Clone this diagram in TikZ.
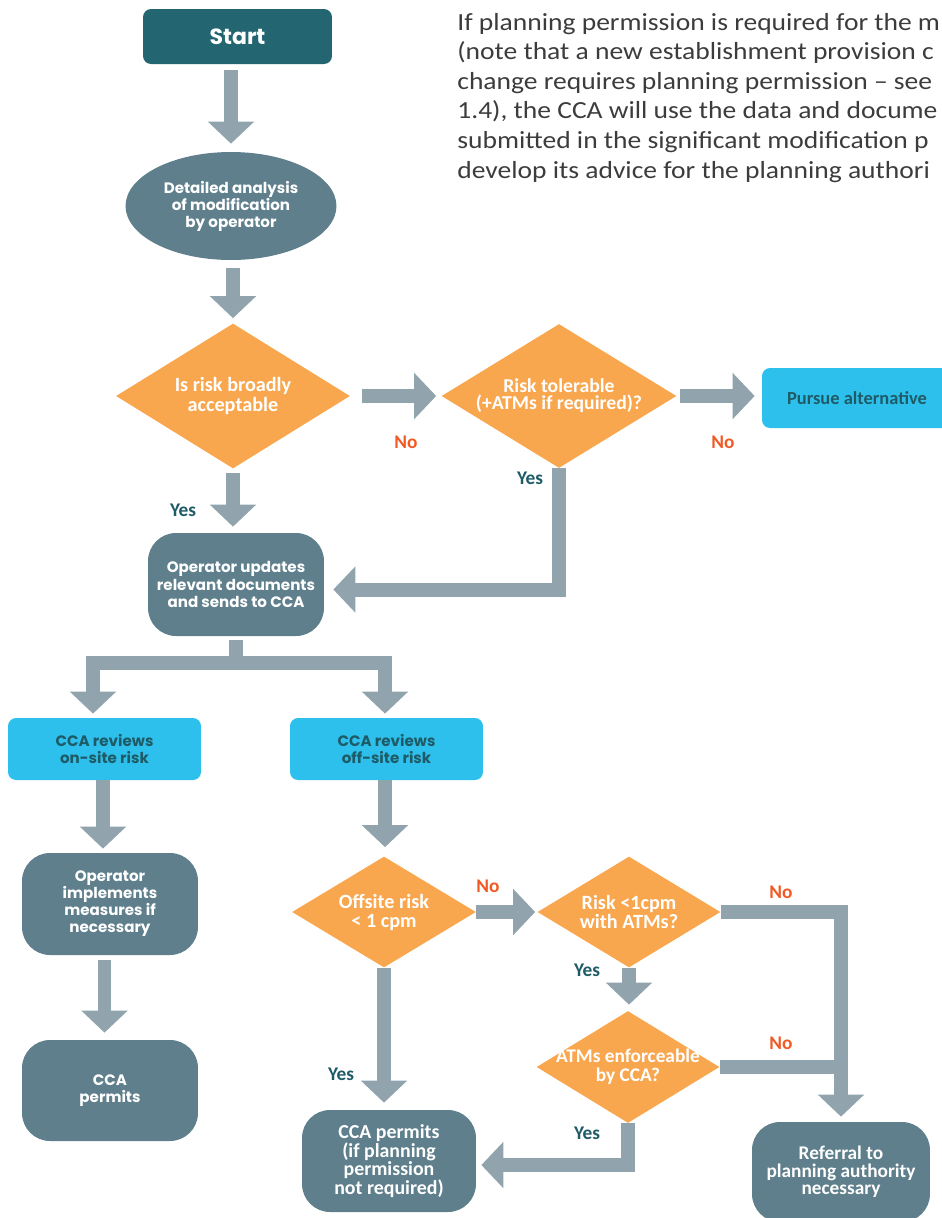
\documentclass[tikz,border=0pt]{standalone}
\usepackage{fontspec}
\setmainfont{Poppins}
\newfontfamily\cndfont{Carlito}
\newfontfamily\parafont[FakeStretch=1.12]{Carlito}
\usetikzlibrary{shapes.geometric,arrows.meta}

\definecolor{startteal}{HTML}{236671}
\definecolor{slate}{HTML}{5E7F8B}
\definecolor{arrowgray}{HTML}{91A4AD}
\definecolor{riskorange}{HTML}{F9A74F}
\definecolor{reviewcyan}{HTML}{2EC0EC}
\definecolor{yesteal}{HTML}{1E5B67}
\definecolor{nored}{HTML}{F15A24}
\definecolor{paratext}{HTML}{3C3C3C}

\begin{document}
\begin{tikzpicture}[x=0.02cm,y=-0.02cm,
  slatebox/.style={rectangle,rounded corners=0.56cm,fill=slate,text=white,align=center,inner sep=0pt,
    font=\bfseries\fontsize{8.6}{9.7}\selectfont},
  cyanbox/.style={rectangle,rounded corners=0.16cm,fill=reviewcyan,text=yesteal,align=center,inner sep=0pt,
    font=\bfseries\fontsize{8.6}{9.7}\selectfont},
  question/.style={diamond,fill=riskorange,text=white,align=center,inner sep=-0.6cm},
  flow/.style={draw=arrowgray,line width=0.28cm,line join=miter,-{Triangle[width=0.9cm,length=0.44cm]}},
  bar/.style={draw=arrowgray,line width=0.28cm,line join=miter},
  yes/.style={text=yesteal,font=\cndfont\bfseries\fontsize{11}{11}\selectfont},
  no/.style={text=nored,font=\cndfont\bfseries\fontsize{11}{11}\selectfont}]
\clip (0,0) rectangle (942,1218);

% Intro text
\node[anchor=north west,align=left,inner sep=0pt,text=paratext,
  font=\parafont\fontsize{14}{16.8}\selectfont] (para) at (457,13)
  {If planning permission is required for the m\\
   (note that a new establishment provision c\\
   change requires planning permission – see\\
   1.4), the CCA will use the data and docume\\
   submitted in the significant modification p\\
   develop its advice for the planning authori};

% Start
\node[rectangle,rounded corners=0.16cm,fill=startteal,text=white,minimum width=3.78cm,minimum height=1.1cm,
  font=\bfseries\fontsize{12.5}{14}\selectfont] (start) at (237.5,36.5) {Start};

% Operator analysis
\node[ellipse,fill=slate,text=white,align=center,inner sep=0pt,minimum width=4.22cm,minimum height=2.16cm,
  font=\bfseries\fontsize{8.6}{9.7}\selectfont] (analysis) at (231,206) {Detailed analysis\\of modification\\by operator};

% First checks
\node[question,minimum width=4.68cm,minimum height=2.9cm,font=\cndfont\bfseries\fontsize{11.5}{9.8}\selectfont]
  (broad) at (233,396) {Is risk broadly\\acceptable};
\node[question,minimum width=4.7cm,minimum height=2.88cm,font=\cndfont\bfseries\fontsize{11.2}{9.8}\selectfont]
  (tolerable) at (559,396) {Risk tolerable\\(+ATMs if required)?};
\node[cyanbox,minimum width=3.8cm,minimum height=1.2cm,font=\cndfont\bfseries\fontsize{10.5}{10}\selectfont]
  (pursue) at (857,398) {Pursue alternative};

% Updated documents
\node[slatebox,minimum width=3.52cm,minimum height=2.06cm] (update) at (236,584.5)
  {Operator updates\\relevant documents\\and sends to CCA};

% CCA reviews
\node[cyanbox,minimum width=3.86cm,minimum height=1.24cm] (onsite) at (104.5,749) {CCA reviews\\on-site risk};
\node[cyanbox,minimum width=3.86cm,minimum height=1.24cm] (offsite) at (386.5,749) {CCA reviews\\off-site risk};

% On-site branch
\node[slatebox,minimum width=3.52cm,minimum height=2.04cm] (implement) at (110,904)
  {Operator\\implements\\measures if\\necessary};
\node[slatebox,minimum width=3.52cm,minimum height=2.02cm] (permitleft) at (110,1090.5) {CCA\\permits};

% Off-site branch
\node[question,minimum width=3.68cm,minimum height=2.22cm,font=\cndfont\bfseries\fontsize{11.5}{10.8}\selectfont]
  (offrisk) at (384,912) {Offsite risk\\< 1 cpm};
\node[question,minimum width=3.66cm,minimum height=2.22cm,font=\cndfont\bfseries\fontsize{11.5}{10.8}\selectfont]
  (withatm) at (629,912) {Risk <1cpm\\with ATMs?};
\node[question,minimum width=3.66cm,minimum height=2.24cm,font=\cndfont\bfseries\fontsize{11}{10.8}\selectfont]
  (enforce) at (628,1067) {ATMs enforceable\\by CCA?};
\node[slatebox,minimum width=3.48cm,minimum height=2.04cm,font=\cndfont\bfseries\fontsize{11.3}{9.9}\selectfont]
  (permitmid) at (389,1161) {CCA permits\\(if planning\\permission\\not required)};
\node[slatebox,minimum width=3.56cm,minimum height=2cm,font=\cndfont\bfseries\fontsize{11}{9.9}\selectfont]
  (referral) at (841,1172) {Referral to\\planning authority\\necessary};

% Arrows
\draw[flow,shorten <=0.12cm,shorten >=0.16cm] (analysis.north |- start.south) -- (analysis.north);
\draw[flow,shorten <=0.16cm,shorten >=0.1cm] (analysis.south -| broad.north) -- (broad.north);
\draw[flow,shorten <=0.24cm,shorten >=0.1cm] (broad.east) -- (tolerable.west);
\draw[flow,shorten <=0.06cm,shorten >=0.14cm] (tolerable.east) -- (tolerable.east -| pursue.west);
\draw[flow,shorten <=0.08cm,shorten >=0.12cm] (broad.south) -- (broad.south |- update.north);
\draw[flow,shorten >=0.18cm] (tolerable.south) |- ([yshift=-0.1cm]update.east);

\coordinate (split) at (236,663);
\draw[flow,shorten <=0.08cm,shorten >=0.08cm] (update.south) -- (split) -| ([xshift=-0.23cm]onsite.north);
\draw[flow,shorten >=0.08cm] (split) -| ([xshift=-0.03cm]offsite.north);

\draw[flow,shorten >=0.08cm] ([xshift=-0.03cm]onsite.south) -- ([xshift=-0.03cm]onsite.south |- implement.north);
\draw[flow,shorten <=0.1cm,shorten >=0.14cm] (implement.south -| onsite.south) -- (onsite.south |- permitleft.north);

\draw[flow,shorten >=0.18cm] ([xshift=-0.03cm]offsite.south) -- ([xshift=-0.03cm]offsite.south |- offrisk.north);
\draw[flow,shorten >=0.04cm] (offrisk.east) -- (withatm.west);
\draw[flow,shorten >=0.14cm] (offrisk.south) -- (offrisk.south |- permitmid.north);
\draw[flow,shorten >=0.12cm] (withatm.south) -- (withatm.south |- enforce.north);
\draw[flow,shorten >=0.1cm] (withatm.east) -| (referral.north);
\draw[bar] (enforce.east) -- (enforce.east -| referral.north);
\draw[flow,shorten >=0.1cm] (enforce.south) |- ([yshift=-0.08cm]permitmid.east);

% Answers
\node[yes] (yesbroad) at (183,510) {Yes};
\node[no] (nobroad) at (406,442) {No};
\node[yes] (yestol) at (530,478) {Yes};
\node[no] (notol) at (723,442) {No};
\node[no] (nooff) at (488,886) {No};
\node[yes] (yesoff) at (341,1074) {Yes};
\node[no] (noatm) at (781,892) {No};
\node[yes] (yesatm) at (587,970) {Yes};
\node[no] (noenf) at (781,1043) {No};
\node[yes] (yesenf) at (587,1133) {Yes};
\end{tikzpicture}
\end{document}
